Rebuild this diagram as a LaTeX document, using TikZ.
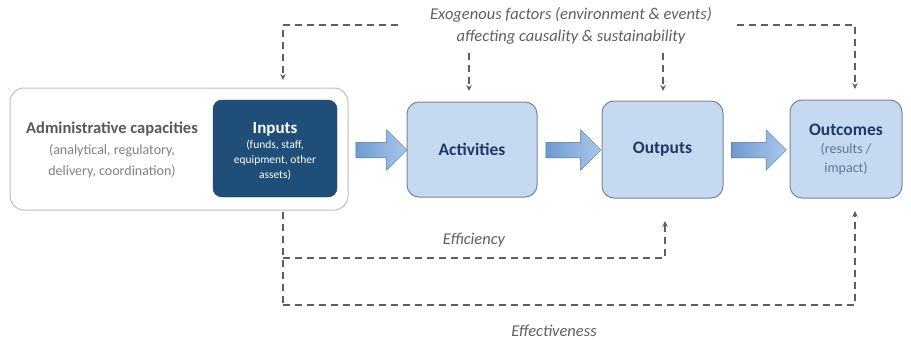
\documentclass[tikz,border=0pt]{standalone}
\usepackage{fontspec}
\setmainfont{Carlito}
\usetikzlibrary{shapes.arrows,arrows.meta}
\definecolor{navy}{HTML}{1F4E79}
\definecolor{boxfill}{HTML}{C5D9F1}
\definecolor{boxline}{HTML}{7A8699}
\definecolor{adminline}{HTML}{BFBFBF}
\definecolor{dashcol}{HTML}{5F5F5F}
\definecolor{labelcol}{HTML}{1F3864}
\definecolor{arrowdark}{HTML}{6E9BD0}
\definecolor{arrowlight}{HTML}{A9C7EA}
\begin{document}
\begin{tikzpicture}[x=1pt,y=-1pt,
  adminbox/.style={draw=adminline,line width=1pt,fill=white,rounded corners=14pt},
  inputbox/.style={fill=navy,draw=navy!80!black,rounded corners=9pt,text=white,align=center},
  stagebox/.style={fill=boxfill,draw=boxline,line width=1pt,rounded corners=12pt,text=labelcol,align=center},
  flowarrow/.style={single arrow,draw=arrowdark!75!black,line width=0.5pt,left color=arrowdark,right color=arrowlight,
    inner xsep=0pt,inner ysep=7.5pt,text height=0pt,text depth=0pt,
    single arrow head extend=12.5pt,single arrow head indent=0pt},
  dashline/.style={draw=dashcol,line width=1.5pt,dash pattern=on 7pt off 5pt},
  dashtip/.style={-{Stealth[length=6pt,width=5.5pt]}},
  note/.style={text=dashcol,font=\itshape\fontsize{16.5}{22}\selectfont,align=center},
  ttl/.style={font=\bfseries\fontsize{17.5}{20}\selectfont}
]
\useasboundingbox (0,0) rectangle (911,340);

% boxes
\node[adminbox,minimum width=338pt,minimum height=122pt] (admin) at (179,149) {};
\node[align=center,text=black!50,font=\fontsize{14}{21}\selectfont] (admintext) at (112,150)
  {\textcolor{black!65}{\bfseries\fontsize{16.5}{20}\selectfont Administrative capacities}\\
   (analytical, regulatory,\\ delivery, coordination)};
\node[inputbox,minimum width=124pt,minimum height=97pt] (inputs) at (275,148.5) {};
\node[align=center,text=white,font=\fontsize{11.5}{15}\selectfont] (inputstext) at (275,151.5)
  {{\bfseries\fontsize{17}{19}\selectfont Inputs}\\
   (funds, staff,\\ equipment, other\\ assets)};
\node[stagebox,ttl,minimum width=130pt,minimum height=95pt] (activities) at (472,149.5) {\raisebox{-2pt}{Activities}};
\node[stagebox,ttl,minimum width=121pt,minimum height=97pt] (outputs) at (662.5,149.5) {\raisebox{-2pt}{Outputs}};
\node[stagebox,minimum width=112pt,minimum height=98pt,font=\fontsize{14}{18.5}\selectfont] (outcomes) at (846,149)
  {{\bfseries\fontsize{17.5}{19}\selectfont Outcomes}\\
   \textcolor{labelcol!70}{(results /}\\ \textcolor{labelcol!70}{impact)}};

% block arrows between stages
\node[flowarrow,minimum height=51pt] (a1) at (377.5,150) {};
\node[flowarrow,minimum height=55pt] (a2) at (569.5,150) {};
\node[flowarrow,minimum height=55pt] (a3) at (755,150) {};

% exogenous factors feeding into every stage
\node[note] (exo) at (571,26) {Exogenous factors (environment \& events)\\ affecting causality \& sustainability};
\coordinate (tl) at (283,25);
\coordinate (tr) at (855,25);
\coordinate (tlstart) at (398,25);
\coordinate (trstart) at (737,25);
\coordinate (ma) at (469,53);
\coordinate (mo) at (663,53);
\draw[dashline,dashtip] (tlstart) -- (tl) -- (283,80);
\draw[dashline,dashtip] (trstart) -- (tr) -- (855,89);
\draw[dashline,dashtip] (ma) -- (469,91);
\draw[dashline,dashtip] (mo) -- (663,91);

% efficiency and effectiveness loops
\coordinate (bstart) at (283,212);
\coordinate (effcorner) at (283,258);
\coordinate (bcorner) at (283,305);
\draw[dashline] (bstart) -- (bcorner);
\draw[dashline,dashtip] (effcorner) -- (665,258) -- (665,221);
\draw[dashline,dashtip] (bcorner) -- (855,305) -- (855,211);
\node[note] (eff) at (474,240) {Efficiency};
\node[note] (effv) at (554,331) {Effectiveness};
\end{tikzpicture}
\end{document}
